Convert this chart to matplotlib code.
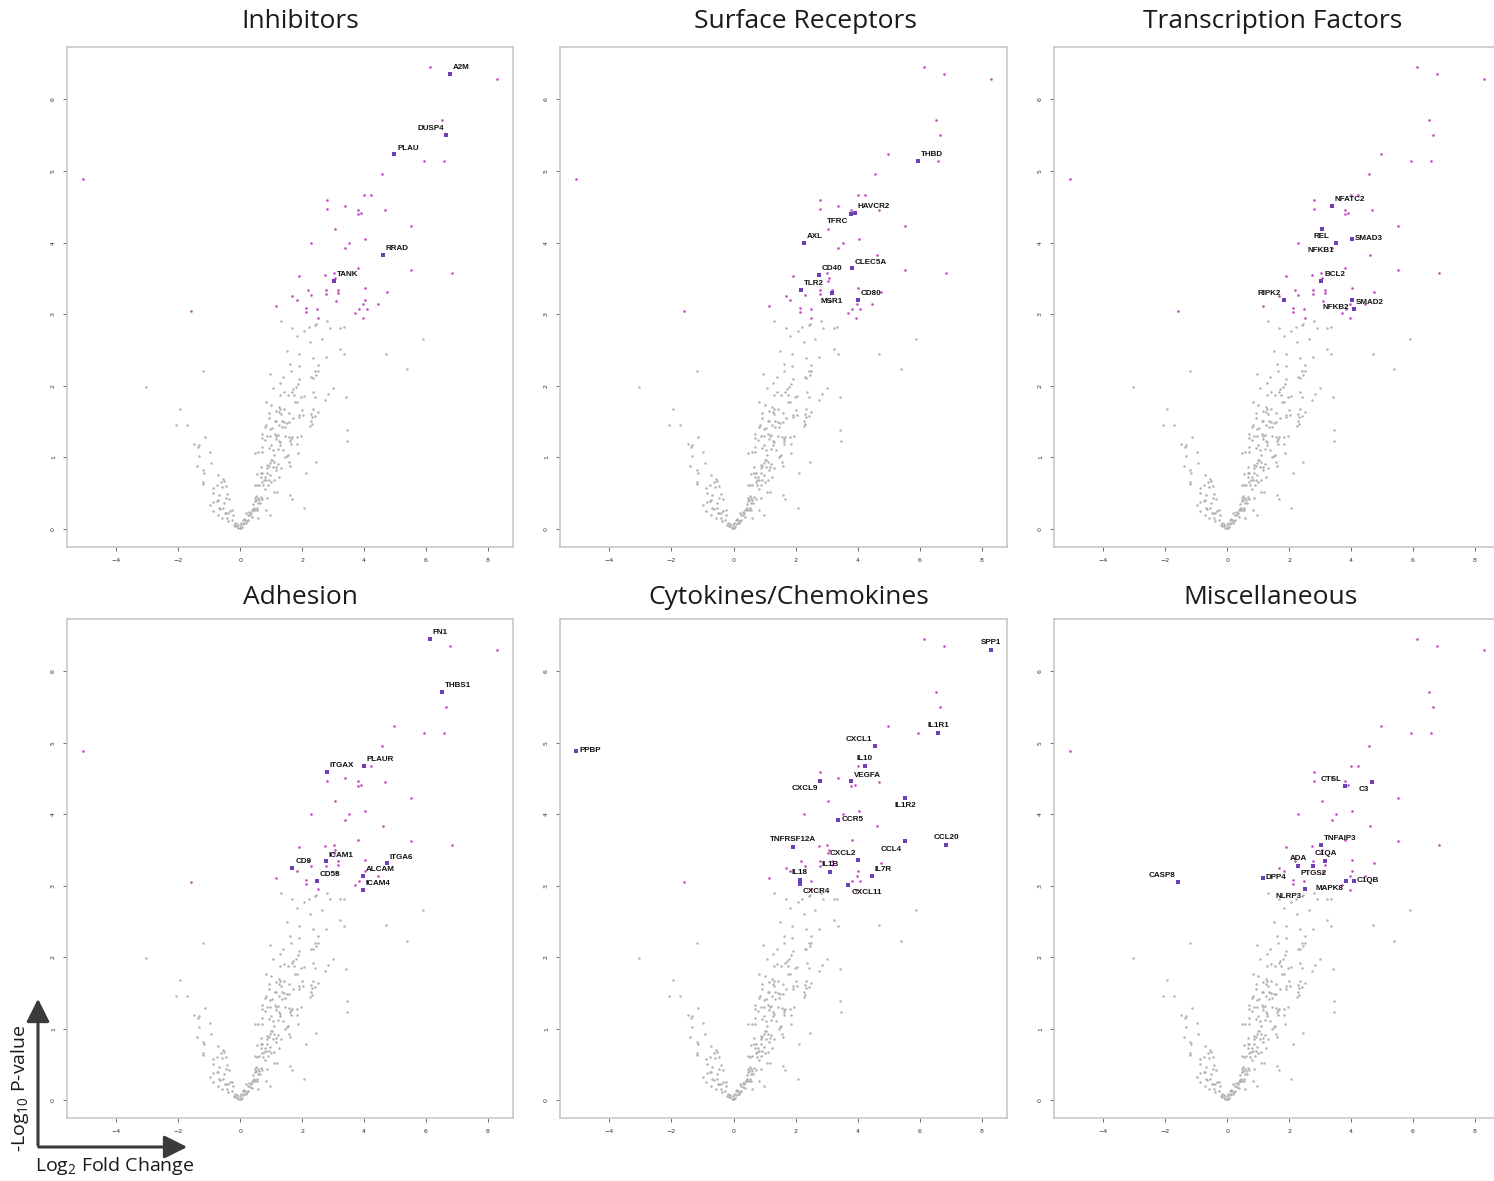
import numpy as np
import matplotlib
matplotlib.use("Agg")
import matplotlib.pyplot as plt
from matplotlib.patches import FancyArrowPatch

# background genes (not significant), (log2 FC, -log10 p)
grey_pts = [
    (1.31, 2.90), (2.82, 2.90), (1.69, 2.81), (2.22, 2.82), (2.45, 2.87), (2.43, 2.85),
    (2.89, 2.81), (3.24, 2.81), (3.34, 2.82), (2.07, 2.77), (5.89, 2.66), (1.82, 2.69),
    (2.64, 2.66), (2.26, 2.61), (3.23, 2.52), (1.51, 2.49), (3.36, 2.44), (1.89, 2.44),
    (4.70, 2.45), (2.35, 2.39), (2.76, 2.40), (1.62, 2.30), (1.89, 2.27), (2.50, 2.29),
    (5.38, 2.23), (-1.19, 2.20), (0.96, 2.17), (1.64, 2.20), (2.42, 2.20), (2.51, 2.20),
    (2.46, 2.15), (2.30, 2.12), (2.35, 2.11), (1.40, 2.12), (1.28, 2.04), (1.91, 2.09),
    (1.07, 1.97), (1.86, 2.03), (1.79, 1.98), (1.71, 1.95), (1.67, 1.92), (-3.05, 1.99),
    (3.00, 1.97), (2.84, 1.89), (1.41, 1.91), (1.29, 1.87), (1.53, 1.87), (1.74, 1.87),
    (1.97, 1.85), (2.05, 1.86), (2.36, 1.92), (2.42, 1.85), (3.43, 1.84), (2.74, 1.80),
    (1.76, 1.77), (1.82, 1.77), (0.82, 1.77), (1.01, 1.73), (-1.94, 1.68), (1.25, 1.70),
    (1.30, 1.67), (1.43, 1.67), (2.00, 1.66), (2.35, 1.67), (1.15, 1.65), (1.27, 1.63),
    (1.31, 1.60), (2.51, 1.64), (0.93, 1.62), (1.59, 1.62), (2.29, 1.61), (1.91, 1.59),
    (2.03, 1.59), (2.32, 1.57), (2.42, 1.58), (0.92, 1.55), (1.70, 1.55), (1.91, 1.56),
    (1.11, 1.51), (1.15, 1.51), (1.35, 1.51), (1.42, 1.50), (1.51, 1.48), (1.59, 1.49),
    (2.28, 1.51), (0.85, 1.46), (0.81, 1.43), (1.24, 1.46), (1.34, 1.42), (1.46, 1.43),
    (2.31, 1.47), (2.27, 1.44), (0.98, 1.40), (1.04, 1.41), (-2.08, 1.46), (-1.73, 1.45),
    (0.69, 1.33), (1.11, 1.33), (3.44, 1.39), (-1.15, 1.29), (0.88, 1.30), (0.98, 1.30),
    (1.16, 1.30), (1.21, 1.32), (1.44, 1.30), (1.57, 1.29), (1.64, 1.26), (1.66, 1.28),
    (1.82, 1.28), (1.95, 1.30), (0.69, 1.27), (0.79, 1.24), (1.15, 1.26), (1.26, 1.23),
    (1.30, 1.21), (1.28, 1.18), (1.62, 1.23), (3.46, 1.23), (-1.48, 1.19), (-1.34, 1.17),
    (-1.37, 1.15), (-1.34, 1.02), (0.70, 1.15), (0.99, 1.17), (1.06, 1.11), (0.93, 1.13),
    (1.21, 1.12), (1.37, 1.11), (1.64, 1.19), (1.84, 1.19), (1.86, 1.06), (0.48, 1.06),
    (0.59, 1.07), (0.69, 1.07), (1.08, 1.04), (1.50, 1.02), (1.54, 1.03), (1.46, 1.00),
    (-0.98, 1.08), (2.45, 0.94), (-1.39, 0.88), (-0.93, 0.92), (1.04, 0.97), (1.01, 0.96),
    (0.98, 0.92), (1.10, 0.93), (0.87, 0.90), (0.93, 0.88), (1.22, 0.91), (0.67, 0.87),
    (0.88, 0.85), (1.06, 0.86), (1.15, 0.82), (1.16, 0.87), (1.32, 0.85), (1.57, 0.93),
    (1.61, 0.88), (-1.19, 0.82), (-1.16, 0.79), (-1.19, 0.66), (-1.19, 0.63), (0.66, 0.79),
    (0.71, 0.78), (0.87, 0.78), (0.56, 0.77), (0.68, 0.73), (0.79, 0.73), (0.98, 0.75),
    (1.24, 0.73), (2.12, 0.79), (0.77, 0.68), (0.82, 0.69), (0.72, 0.66), (0.93, 0.69),
    (1.00, 0.66), (1.10, 0.68), (0.89, 0.62), (0.47, 0.62), (0.53, 0.61), (0.61, 0.62),
    (0.75, 0.61), (0.81, 0.56), (1.08, 0.52), (1.18, 0.52), (-0.73, 0.76), (-0.56, 0.70),
    (-0.53, 0.67), (-0.62, 0.66), (-0.76, 0.61), (-0.59, 0.59), (-0.46, 0.60), (-0.88, 0.57),
    (-0.87, 0.51), (-0.69, 0.47), (-0.41, 0.49), (-0.47, 0.44), (-0.35, 0.42), (-0.73, 0.40),
    (-0.76, 0.39), (-0.86, 0.38), (-0.52, 0.37), (-0.98, 0.33), (-0.88, 0.25), (-0.69, 0.29),
    (-0.64, 0.28), (-0.54, 0.29), (-0.49, 0.23), (-0.46, 0.22), (-0.40, 0.23), (-0.33, 0.25),
    (-0.25, 0.26), (-0.23, 0.20), (-0.71, 0.20), (-0.58, 0.15), (-0.41, 0.15), (-0.38, 0.11),
    (-0.27, 0.13), (1.61, 0.48), (1.66, 0.42), (2.07, 0.30), (0.88, 0.44), (0.52, 0.46),
    (0.48, 0.44), (0.47, 0.39), (0.50, 0.41), (0.57, 0.44), (0.61, 0.41), (0.67, 0.45),
    (0.71, 0.42), (0.57, 0.37), (0.63, 0.36), (0.43, 0.35), (0.45, 0.30), (0.41, 0.28),
    (0.49, 0.27), (0.37, 0.26), (0.43, 0.27), (0.54, 0.29), (0.56, 0.27), (0.30, 0.24),
    (0.34, 0.22), (0.20, 0.22), (0.24, 0.20), (0.31, 0.19), (0.37, 0.17), (0.11, 0.14),
    (0.16, 0.13), (0.08, 0.13), (0.13, 0.09), (0.18, 0.08), (0.21, 0.11), (0.24, 0.13),
    (0.59, 0.16), (0.82, 0.27), (0.97, 0.20), (-0.17, 0.08), (-0.15, 0.05), (-0.11, 0.04),
    (-0.06, 0.02), (-0.02, 0.01), (0.02, 0.02), (0.05, 0.03), (-0.21, 0.06), (-0.11, 0.07),
    (-0.02, 0.06), (0.09, 0.07), (0.02, 0.08),
]

# significant genes
pink_pts = [
    (6.13, 6.45), (6.77, 6.35), (8.28, 6.29), (6.53, 5.71), (6.66, 5.50), (4.98, 5.23),
    (5.95, 5.14), (6.59, 5.14), (4.57, 4.96), (-5.06, 4.89), (4.00, 4.67), (4.23, 4.67),
    (2.79, 4.59), (2.80, 4.47), (3.37, 4.51), (3.80, 4.46), (3.79, 4.40), (3.91, 4.41),
    (4.68, 4.45), (5.52, 4.23), (3.05, 4.19), (4.04, 4.05), (2.28, 4.00), (3.53, 4.00),
    (3.38, 3.92), (4.61, 3.83), (3.82, 3.64), (5.52, 3.62), (6.85, 3.57), (1.90, 3.54),
    (2.75, 3.55), (3.02, 3.57), (3.04, 3.46), (3.07, 3.50), (2.18, 3.34), (2.77, 3.34),
    (3.17, 3.34), (4.02, 3.36), (4.74, 3.31), (1.69, 3.25), (2.29, 3.27), (2.78, 3.28),
    (3.16, 3.29), (1.82, 3.20), (4.02, 3.20), (3.10, 3.19), (-1.59, 3.05), (1.15, 3.11),
    (2.13, 3.08), (2.13, 3.03), (2.49, 3.07), (2.51, 2.95), (3.70, 3.01), (3.83, 3.07),
    (3.98, 3.14), (4.08, 3.07), (3.96, 2.94), (4.45, 3.14),
]

titles = ["Inhibitors", "Surface Receptors", "Transcription Factors",
          "Adhesion", "Cytokines/Chemokines", "Miscellaneous"]

inhib_genes = ["A2M", "DUSP4", "PLAU", "RRAD", "TANK"]
inhib_lfc = [6.77, 6.66, 4.98, 4.61, 3.04]
inhib_p = [6.35, 5.50, 5.23, 3.83, 3.46]

surf_genes = ["THBD", "HAVCR2", "TFRC", "AXL", "CLEC5A", "CD40", "TLR2", "MSR1", "CD80"]
surf_lfc = [5.95, 3.91, 3.79, 2.28, 3.82, 2.75, 2.18, 3.16, 4.02]
surf_p = [5.14, 4.41, 4.40, 4.00, 3.64, 3.55, 3.34, 3.29, 3.20]

tf_genes = ["NFATC2", "REL", "NFKB1", "SMAD3", "BCL2", "RIPK2", "NFKB2", "SMAD2"]
tf_lfc = [3.37, 3.05, 3.53, 4.04, 3.04, 1.82, 4.02, 4.08]
tf_p = [4.51, 4.19, 4.00, 4.05, 3.46, 3.20, 3.20, 3.07]

adh_genes = ["FN1", "THBS1", "ITGAX", "PLAUR", "ICAM1", "CD9", "CD58", "ITGA6", "ALCAM", "ICAM4"]
adh_lfc = [6.13, 6.53, 2.79, 4.00, 2.77, 1.69, 2.49, 4.74, 3.98, 3.96]
adh_p = [6.45, 5.71, 4.59, 4.67, 3.34, 3.25, 3.07, 3.31, 3.14, 2.94]

cyto_genes = ["SPP1", "IL1R1", "CXCL1", "IL10", "VEGFA", "CXCL9", "IL1R2", "CCR5", "PPBP",
              "TNFRSF12A", "CCL4", "CCL20", "CXCL2", "IL1B", "IL7R", "IL18", "CXCR4", "CXCL11"]
cyto_lfc = [8.28, 6.59, 4.57, 4.23, 3.80, 2.80, 5.52, 3.38, -5.06,
            1.90, 5.52, 6.85, 4.02, 3.10, 4.45, 2.13, 2.13, 3.70]
cyto_p = [6.29, 5.14, 4.96, 4.67, 4.46, 4.47, 4.23, 3.92, 4.89,
          3.54, 3.62, 3.57, 3.36, 3.19, 3.14, 3.08, 3.03, 3.01]

misc_genes = ["CTSL", "C3", "TNFAIP3", "C1QA", "ADA", "PTGS2", "CASP8", "DPP4", "NLRP3",
              "MAPK8", "C1QB"]
misc_lfc = [3.79, 4.68, 3.02, 3.17, 2.29, 2.78, -1.59, 1.15, 2.51, 3.83, 4.08]
misc_p = [4.40, 4.45, 3.57, 3.34, 3.27, 3.28, 3.05, 3.11, 2.95, 3.07, 3.07]

panel_genes = [inhib_genes, surf_genes, tf_genes, adh_genes, cyto_genes, misc_genes]
panel_lfc = [inhib_lfc, surf_lfc, tf_lfc, adh_lfc, cyto_lfc, misc_lfc]
panel_p = [inhib_p, surf_p, tf_p, adh_p, cyto_p, misc_p]

# where each label sits relative to its point
label_side = {
    "DUSP4": "ul", "TFRC": "ll", "MSR1": "b", "REL": "b", "NFKB1": "ll", "SMAD3": "r",
    "RIPK2": "ul", "NFKB2": "ll", "SPP1": "u", "IL1R1": "u", "CXCL1": "ul", "IL10": "u",
    "CXCL9": "ll", "IL1R2": "b", "CCR5": "r", "PPBP": "r", "TNFRSF12A": "u", "CCL4": "ll",
    "CCL20": "u", "CXCL2": "ul", "IL1B": "u", "IL18": "u", "CXCR4": "lr", "CXCL11": "lr",
    "CTSL": "ul", "C3": "ll", "C1QA": "u", "ADA": "u", "PTGS2": "b", "CASP8": "ul",
    "DPP4": "r", "NLRP3": "ll", "MAPK8": "ll", "C1QB": "r",
}
side_fmt = {
    "ur": (2, 2, "left", "bottom"), "ul": (-2, 2, "right", "bottom"),
    "u": (0, 3, "center", "bottom"), "b": (0, -3, "center", "top"),
    "r": (2, 0, "left", "center"), "ll": (-2, -3, "right", "top"),
    "lr": (2, -3, "left", "top"),
}

W, H = 1494, 1181
fig = plt.figure(figsize=(W / 100, H / 100), dpi=100)


def px_box(l, t, r, b):
    return [l / W, 1 - b / H, (r - l) / W, (b - t) / H]


boxes = [(67, 47, 513, 547), (560, 47, 1007, 547), (1054, 47, 1500, 547),
         (67, 619, 513, 1118), (560, 619, 1007, 1118), (1054, 619, 1500, 1118)]
title_pos = [(300, 22), (805, 22), (1273, 22), (300, 597), (789, 597), (1270, 597)]

grey = np.array(grey_pts)
pink = np.array(pink_pts)

for i in range(6):
    ax = fig.add_axes(px_box(*boxes[i]))
    ax.scatter(grey[:, 0], grey[:, 1], s=3.2, color="#b0b0b0", linewidths=0, zorder=2)
    ax.scatter(pink[:, 0], pink[:, 1], s=3.6, color="#c44fc4", linewidths=0, zorder=3)
    ax.scatter(panel_lfc[i], panel_p[i], s=9, marker="s", color="#6e3fb6",
               linewidths=0, zorder=4)
    for g, x, y in zip(panel_genes[i], panel_lfc[i], panel_p[i]):
        dx, dy, ha, va = side_fmt[label_side.get(g, "ur")]
        ax.annotate(g, (x, y), xytext=(dx, dy), textcoords="offset points",
                    ha=ha, va=va, fontsize=5.8, fontweight="bold",
                    family="Liberation Sans", color="#111111", zorder=5)

    ax.set_xlim(-5.59, 8.81)
    ax.set_ylim(-0.25, 6.73)
    ax.set_xticks([-4, -2, 0, 2, 4, 6, 8])
    ax.set_yticks([0, 1, 2, 3, 4, 5, 6])
    ax.tick_params(length=3, width=0.6, color="#555555", labelsize=4.5,
                   labelcolor="#333333", pad=5)
    for lab in ax.get_yticklabels():
        lab.set_rotation(90)
        lab.set_va("center")
    for sp in ax.spines.values():
        sp.set_color("#c4c4c4")
        sp.set_linewidth(1.1)

    tx, ty = title_pos[i]
    fig.text(tx / W, 1 - ty / H, titles[i], ha="center", va="center",
             fontsize=19, family="Open Sans", color="#1a1a1a")

# axis key in the bottom-left corner
arrow_kw = dict(arrowstyle="-|>,head_length=1.4,head_width=0.7", color="#3a3a3a",
                lw=2.2, transform=fig.transFigure, mutation_scale=10)
fig.add_artist(FancyArrowPatch((38 / W, 1 - 1148 / H), (38 / W, 1 - 996 / H), **arrow_kw))
fig.add_artist(FancyArrowPatch((36 / W, 1 - 1147 / H), (190 / W, 1 - 1147 / H), **arrow_kw))
fig.text(20 / W, 1 - 1088 / H, r"-Log$_{\mathregular{10}}$ P-value", rotation=90,
         ha="center", va="center", fontsize=14, family="Open Sans", color="#1a1a1a")
fig.text(115 / W, 1 - 1166 / H, r"Log$_{\mathregular{2}}$ Fold Change",
         ha="center", va="center", fontsize=14, family="Open Sans", color="#1a1a1a")

fig.savefig("out.png", dpi=100)
